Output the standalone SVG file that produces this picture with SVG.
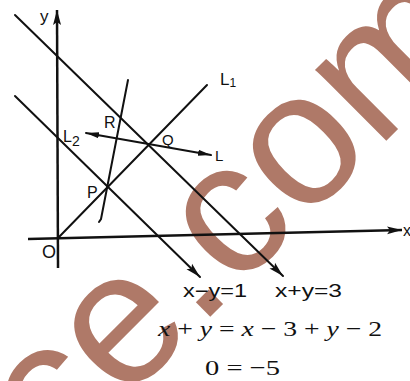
<svg xmlns="http://www.w3.org/2000/svg" width="410" height="381" viewBox="0 0 410 381">
<style>
.ln{stroke:#111;stroke-width:2;fill:none;stroke-linecap:round}
.ax{stroke:#111;stroke-width:2.5;fill:none}
.lb{font-family:"Liberation Sans",Arial,sans-serif;fill:#111}
.eq{font-family:"Liberation Serif","Times New Roman",serif;fill:#111}
.wm{font-family:"Liberation Sans",Arial,sans-serif;fill:#AF7968}
</style>
<defs>
<marker id="ah" markerUnits="userSpaceOnUse" markerWidth="16" markerHeight="9" refX="15" refY="4.5" orient="auto-start-reverse"><path d="M0,0.5 L15,4.5 L0,8.5 L3,4.5 z" fill="#111"/></marker>
<marker id="ahs" markerUnits="userSpaceOnUse" markerWidth="14" markerHeight="7" refX="13" refY="3.5" orient="auto-start-reverse"><path d="M0,0.5 L13,3.5 L0,6.5 z" fill="#111"/></marker>
</defs>
<rect width="410" height="381" fill="#fff"/>
<text class="wm" transform="translate(56,471) rotate(-45)" font-size="190">ce.com</text>
<g id="axes">
<line class="ax" x1="58" y1="268" x2="57" y2="10" marker-end="url(#ah)"/>
<line class="ax" x1="28" y1="239" x2="402" y2="230" marker-end="url(#ah)"/>
</g>
<g id="connectors">
<line id="line-x-plus-y" class="ln" x1="15" y1="15" x2="283" y2="276" marker-end="url(#ah)"/>
<line id="line-x-minus-y" class="ln" x1="15" y1="96" x2="200" y2="277" marker-end="url(#ah)"/>
<line id="line-L1" class="ln" x1="59" y1="237" x2="207" y2="85"/>
<line id="line-L" class="ln" x1="86" y1="133" x2="211" y2="155" marker-start="url(#ahs)" marker-end="url(#ahs)"/>
<path id="line-PR" class="ln" d="M128,80 L101,219 L99,222"/>
</g>
<g id="labels" class="lb">
<text x="40" y="22" font-size="17">y</text>
<text x="220" y="85" font-size="17">L<tspan font-size="12" dy="2">1</tspan></text>
<text x="63" y="142" font-size="16">L<tspan font-size="14" dy="4">2</tspan></text>
<text x="215" y="161" font-size="15">L</text>
<text x="104" y="128" font-size="16">R</text>
<text x="162" y="145" font-size="15">Q</text>
<text x="87" y="198" font-size="16">P</text>
<text x="42" y="258" font-size="18">O</text>
<text x="403" y="236" font-size="16">x</text>
<text x="183" y="297" font-size="18" textLength="64" lengthAdjust="spacingAndGlyphs">x−y=1</text>
<text x="275" y="297" font-size="18" textLength="67" lengthAdjust="spacingAndGlyphs">x+y=3</text>
</g>
<g id="equations" class="eq">
<text x="158" y="336" font-size="22" textLength="224" lengthAdjust="spacingAndGlyphs"><tspan font-style="italic">x</tspan> + <tspan font-style="italic">y</tspan> = <tspan font-style="italic">x</tspan> − 3 + <tspan font-style="italic">y</tspan> − 2</text>
<text x="205" y="375" font-size="22" textLength="75" lengthAdjust="spacingAndGlyphs">0 = −5</text>
</g>
</svg>
